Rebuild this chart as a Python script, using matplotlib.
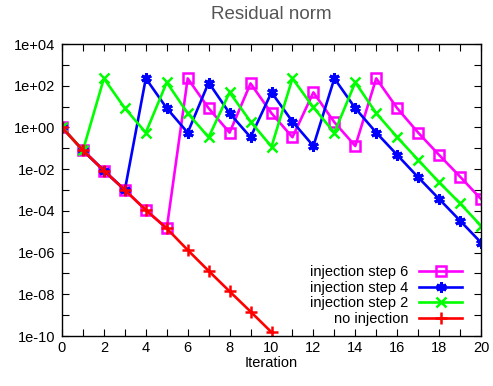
import matplotlib
matplotlib.use("Agg")
import matplotlib.pyplot as plt
import numpy as np

plt.rcParams['font.family'] = ['Liberation Sans', 'DejaVu Sans']

iters = np.arange(0, 21)
# log10 of residual norm
log_none = [0, -1.1, -2.07, -3.0, -3.96, -4.84, -5.88, -6.88, -7.86, -8.83, -9.82]
log_step2 = [0, -1.1, 2.35, 0.92, -0.25, 2.16, 0.68, -0.47, 1.68, 0.28, -0.92,
             2.35, 0.96, -0.25, 2.16, 0.68, -0.47, -1.56, -2.63, -3.64, -4.72]
log_step4 = [0, -1.1, -2.07, -3.0, 2.35, 0.92, -0.25, 2.15, 0.68, -0.47, 1.68,
             0.28, -0.89, 2.35, 0.92, -0.25, -1.32, -2.39, -3.43, -4.47, -5.52]
log_step6 = [0, -1.1, -2.07, -3.0, -3.96, -4.84, 2.35, 0.92, -0.25, 2.11, 0.68,
             -0.47, 1.68, 0.25, -0.89, 2.35, 0.92, -0.25, -1.32, -2.36, -3.43]

fig = plt.figure(figsize=(4.93, 3.86), dpi=100)
ax = fig.add_axes([62/493, 1-336/386, (481-62)/493, (336-44)/386])

lw = 1.9
ax.plot(iters, 10.0**np.array(log_step6), color='#ff00ff', lw=lw, marker='s',
        ms=7, mfc='none', mew=1.8, label='injection step 6')
ax.plot(iters, 10.0**np.array(log_step4), color='#0000ff', lw=lw, marker=(6, 2, 0),
        ms=7.5, mew=2.2, label='injection step 4')
ax.plot(iters, 10.0**np.array(log_step2), color='#00ff00', lw=lw, marker='x',
        ms=7, mew=1.8, label='injection step 2')
ax.plot(iters[:len(log_none)], 10.0**np.array(log_none), color='#ff0000', lw=lw,
        marker='+', ms=8, mew=1.8, label='no injection')

ax.set_yscale('log')
ax.set_xlim(0, 20)
ax.set_ylim(1e-10, 1e4)

ylab_exp = [-10, -8, -6, -4, -2, 0, 2, 4]
ax.set_yticks([10.0**e for e in ylab_exp])
ax.set_yticklabels(['1e%+03d' % e for e in ylab_exp])
ax.set_yticks([10.0**e for e in range(-9, 4, 2)], minor=True)
ax.yaxis.set_minor_formatter(matplotlib.ticker.NullFormatter())
ax.set_xticks(np.arange(0, 21, 2))
ax.set_xticks(np.arange(1, 20, 2), minor=True)

ax.tick_params(which='both', direction='in', top=True, right=True,
               length=5, width=0.8, labelsize=10.5)
ax.tick_params(axis='y', pad=5)
for s in ax.spines.values():
    s.set_linewidth(1.0)

ax.set_xlabel('Iteration', fontsize=10.5, labelpad=1)
ax.set_title('Residual norm', fontsize=13.5, color='#555555', pad=18)

ax.legend(loc='lower right', frameon=False, markerfirst=False, fontsize=10.5,
          handlelength=3.0, labelspacing=0.1, borderaxespad=0.3,
          handletextpad=0.7, bbox_to_anchor=(0.98, 0.0))

fig.savefig('out.png', dpi=100)
